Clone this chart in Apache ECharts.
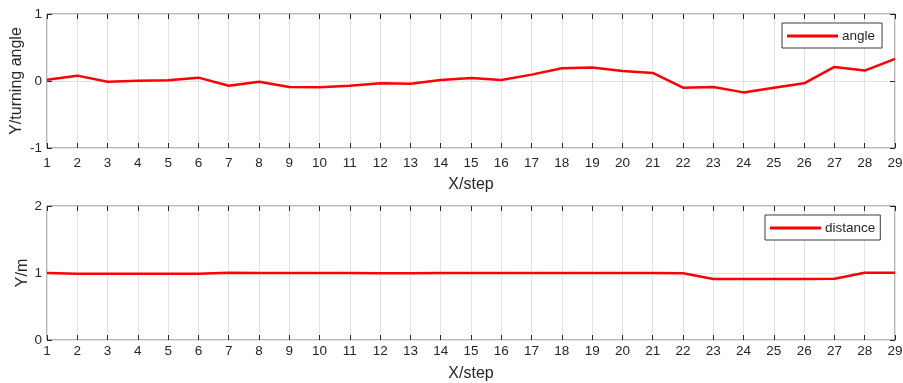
<!DOCTYPE html>
<html>
<head>
<meta charset="utf-8">
<script src="https://cdn.jsdelivr.net/npm/echarts@6/dist/echarts.min.js"></script>
<style>
html,body{margin:0;padding:0;background:#fff;}
#c{width:903px;height:383px;}
</style>
</head>
<body>
<div id="c"></div>
<script>
const steps = [1,2,3,4,5,6,7,8,9,10,11,12,13,14,15,16,17,18,19,20,21,22,23,24,25,26,27,28,29];
const angle = [0.02,0.08,-0.01,0.005,0.01,0.05,-0.07,-0.01,-0.09,-0.095,-0.07,-0.035,-0.04,0.015,0.045,0.015,0.095,0.19,0.2,0.15,0.12,-0.1,-0.09,-0.17,-0.1,-0.035,0.21,0.155,0.33];
const distance = [1.0,0.99,0.99,0.99,0.99,0.99,1.005,1.0,1.0,1.0,1.0,0.995,0.995,1.0,1.0,1.0,1.0,1.0,1.0,1.0,1.0,0.995,0.91,0.91,0.91,0.91,0.915,1.005,1.005];
const angleTicks = [-1,0,1];
const distTicks = [0,1,2];

const FONT = 'Liberation Sans, Arial, sans-serif';
const TXT = '#262626';
const chart = echarts.init(document.getElementById('c'), null, {renderer:'canvas'});

function xAxisMain(gi, lblMargin, nameGap){
  return {
    type:'value', gridIndex:gi, min:1, max:29, interval:1,
    name:'X/step', nameLocation:'middle', nameGap:nameGap, nameMoveOverlap:false,
    nameTextStyle:{color:TXT, fontSize:16, fontFamily:FONT},
    axisLine:{show:false, onZero:false},
    axisTick:{show:true, inside:true, length:5, lineStyle:{color:TXT, width:1}},
    axisLabel:{color:TXT, fontSize:13.5, fontFamily:FONT, margin:lblMargin},
    splitLine:{show:true, lineStyle:{color:'#e3e3e3', width:1}}
  };
}
function xAxisTop(gi){
  return {
    type:'value', gridIndex:gi, min:1, max:29, interval:1, position:'top',
    axisLine:{show:false, onZero:false},
    axisTick:{show:true, inside:true, length:5, lineStyle:{color:TXT, width:1}},
    axisLabel:{show:false}, splitLine:{show:false}
  };
}
function yAxisMain(gi, mn, mx, name, gap){
  return {
    type:'value', gridIndex:gi, min:mn, max:mx, interval:1,
    name:name, nameLocation:'middle', nameGap:gap, nameMoveOverlap:false,
    nameTextStyle:{color:TXT, fontSize:16, fontFamily:FONT},
    axisLine:{show:false, onZero:false},
    axisTick:{show:true, inside:true, length:5, lineStyle:{color:TXT, width:1}},
    axisLabel:{color:TXT, fontSize:13.5, fontFamily:FONT, margin:5},
    splitLine:{show:true, lineStyle:{color:'#e3e3e3', width:1}}
  };
}
function yAxisRight(gi, mn, mx){
  return {
    type:'value', gridIndex:gi, min:mn, max:mx, interval:1, position:'right',
    axisLine:{show:false, onZero:false},
    axisTick:{show:true, inside:true, length:5, lineStyle:{color:TXT, width:1}},
    axisLabel:{show:false}, splitLine:{show:false}
  };
}

chart.setOption({
  animation:false,
  backgroundColor:'#fff',
  grid:[
    {left:47, right:8, top:14, height:134, show:true, borderColor:'#6e6e6e', borderWidth:1, backgroundColor:'transparent', outerBoundsMode:'none', containLabel:false},
    {left:47, right:8, top:206, height:134, show:true, borderColor:'#6e6e6e', borderWidth:1, backgroundColor:'transparent', outerBoundsMode:'none', containLabel:false}
  ],
  legend:[
    {data:['angle'], left:782, top:23, orient:'vertical', padding:[6,7,5,5], itemWidth:51, itemHeight:3, itemGap:4,
     icon:'rect', borderColor:'#3a3a3a', borderWidth:1, backgroundColor:'#fff',
     textStyle:{color:TXT, fontSize:13.5, fontFamily:FONT, padding:[0,0,0,-1]}},
    {data:['distance'], left:765, top:215, orient:'vertical', padding:[6,5,5,5], itemWidth:51, itemHeight:3, itemGap:4,
     icon:'rect', borderColor:'#3a3a3a', borderWidth:1, backgroundColor:'#fff',
     textStyle:{color:TXT, fontSize:13.5, fontFamily:FONT, padding:[0,0,0,-1]}}
  ],
  xAxis:[xAxisMain(0, 8, 29), xAxisTop(0), xAxisMain(1, 4, 26), xAxisTop(1)],
  yAxis:[yAxisMain(0,-1,1,'Y/turning angle',22), yAxisRight(0,-1,1), yAxisMain(1,0,2,'Y/m',16), yAxisRight(1,0,2)],
  series:[
    {name:'angle', type:'line', xAxisIndex:0, yAxisIndex:0, showSymbol:false, symbol:'none',
     data:steps.map((s,i)=>[s, angle[i]]), lineStyle:{color:'#ff0000', width:2.5}, itemStyle:{color:'#ff0000'}},
    {name:'distance', type:'line', xAxisIndex:2, yAxisIndex:2, showSymbol:false, symbol:'none',
     data:steps.map((s,i)=>[s, distance[i]]), lineStyle:{color:'#ff0000', width:2.5}, itemStyle:{color:'#ff0000'}}
  ]
});
</script>
</body>
</html>
